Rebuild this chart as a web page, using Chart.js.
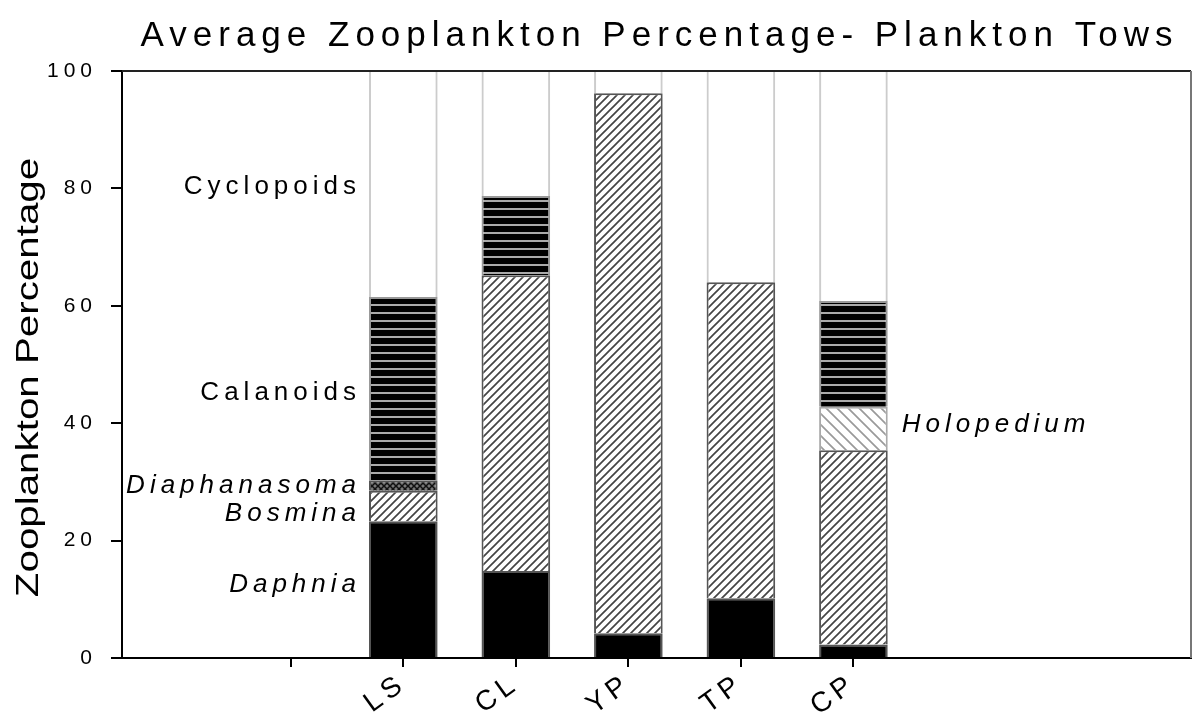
<!DOCTYPE html>
<html>
<head>
<meta charset="utf-8">
<script src="https://cdn.jsdelivr.net/npm/chart.js@4.4.0/dist/chart.umd.min.js"></script>
<style>
html, body { margin: 0; padding: 0; background: #fff; }
</style>
</head>
<body>
<canvas id="zooChart" width="1192" height="716"></canvas>
<script>
// lakes on the x axis (first slot is an empty category)
const lakes = ['', 'LS', 'CL', 'YP', 'TP', 'CP'];
const lakePos = [1, 2, 3, 4, 5];

// percentages per lake (LS, CL, YP, TP, CP)
const daphnia      = [23.3, 14.8,  4.2, 10.2,  2.3];
const bosmina      = [ 5.2, 50.4, 92.0, 53.8, 33.1];
const diaphanasoma = [ 1.8,  0,    0,    0,    0  ];
const holopedium   = [ 0,    0,    0,    0,    7.4];
const calanoids    = [31.2, 13.5,  0,    0,   18.0];
const cyclopoids   = [38.5, 21.3,  3.8, 36.0, 39.2];

const yTicks = [0, 20, 40, 60, 80, 100];

// text labels written inside the plot
const noteNames  = ['Daphnia', 'Bosmina', 'Diaphanasoma', 'Holopedium', 'Calanoids', 'Cyclopoids'];
const noteY      = [12.4, 24.5, 29.3, 39.7, 45.1, 80.2];
const noteBar    = [1, 1, 1, 5, 1, 1];
const noteItalic = [true, true, true, true, false, false];

const FONT = '"Liberation Sans", Arial, sans-serif';
Chart.defaults.font.family = FONT;

function tile(size, bg, draw) {
    const c = document.createElement('canvas');
    c.width = size; c.height = size;
    const g = c.getContext('2d');
    g.fillStyle = bg;
    g.fillRect(0, 0, size, size);
    draw(g, size);
    return g.createPattern(c, 'repeat');
}
function fwd(g, s) { // "/" lines
    g.beginPath();
    g.moveTo(-1, s + 1); g.lineTo(s + 1, -1);
    g.moveTo(-2, 2); g.lineTo(2, -2);
    g.moveTo(s - 2, s + 2); g.lineTo(s + 2, s - 2);
    g.stroke();
}
function back(g, s) { // "\" lines
    g.beginPath();
    g.moveTo(-1, -1); g.lineTo(s + 1, s + 1);
    g.moveTo(s - 2, -2); g.lineTo(s + 2, 2);
    g.moveTo(-2, s - 2); g.lineTo(2, s + 2);
    g.stroke();
}

const bosminaFill = tile(8, '#fff', (g, s) => { g.strokeStyle = '#444'; g.lineWidth = 1.7; fwd(g, s); });
const holoFill = tile(11, '#fff', (g, s) => { g.strokeStyle = '#9a9a9a'; g.lineWidth = 1.7; back(g, s); });
const diaphFill = tile(6, '#777', (g, s) => { g.strokeStyle = '#111'; g.lineWidth = 1.5; fwd(g, s); back(g, s); });
const calanFill = tile(8, '#000', (g, s) => { g.fillStyle = '#aaa'; g.fillRect(0, 0, s, 2); });

function pts(vals) {
    return vals.map((v, i) => ({ x: lakePos[i], y: v }));
}

const decor = {
    id: 'decor',
    beforeDraw(chart) {
        chart.ctx.letterSpacing = '5px';
    },
    afterDraw(chart) {
        const { ctx, chartArea: a, scales: { x, y } } = chart;
        ctx.save();
        // frame top and right
        ctx.lineWidth = 2;
        ctx.strokeStyle = '#222';
        ctx.beginPath(); ctx.moveTo(a.left, a.top); ctx.lineTo(a.right, a.top); ctx.stroke();
        ctx.strokeStyle = '#777';
        ctx.beginPath(); ctx.moveTo(a.right, a.top); ctx.lineTo(a.right, a.bottom); ctx.stroke();

        // title
        ctx.fillStyle = '#000';
        ctx.letterSpacing = '6px';
        ctx.font = '35px ' + FONT;
        ctx.textAlign = 'center';
        ctx.textBaseline = 'middle';
        ctx.fillText('Average Zooplankton Percentage- Plankton Tows', (a.left + a.right) / 2 + 3, 36);

        // y axis title (drawn a bit stretched along its length, as in the source)
        ctx.letterSpacing = '0px';
        ctx.save();
        ctx.translate(29, (a.top + a.bottom) / 2 + 13);
        ctx.rotate(-Math.PI / 2);
        ctx.scale(1.26, 1);
        ctx.font = '32px ' + FONT;
        ctx.fillText('Zooplankton Percentage', 0, 0);
        ctx.restore();

        // series names beside the bars
        const half = chart.getDatasetMeta(0).data[0].width / 2;
        ctx.letterSpacing = '5px';
        ctx.textBaseline = 'middle';
        noteNames.forEach((name, i) => {
            ctx.font = (noteItalic[i] ? 'italic ' : '') + '26px ' + FONT;
            const cx = x.getPixelForValue(noteBar[i]);
            const py = y.getPixelForValue(noteY[i]);
            if (noteBar[i] === lakePos[lakePos.length - 1]) {
                ctx.textAlign = 'left';
                ctx.fillText(name, cx + half + 14, py);
            } else {
                ctx.textAlign = 'right';
                ctx.fillText(name, cx - half - 8, py);
            }
        });
        ctx.restore();
    }
};

new Chart(document.getElementById('zooChart'), {
    type: 'bar',
    data: {
        datasets: [
            { label: 'Daphnia', data: pts(daphnia), backgroundColor: '#000', borderColor: '#555', borderWidth: 2 },
            { label: 'Bosmina', data: pts(bosmina), backgroundColor: bosminaFill, borderColor: '#555', borderWidth: 2 },
            { label: 'Diaphanasoma', data: pts(diaphanasoma), backgroundColor: diaphFill, borderColor: '#555', borderWidth: 2 },
            { label: 'Holopedium', data: pts(holopedium), backgroundColor: holoFill, borderColor: '#aaa', borderWidth: 2 },
            { label: 'Calanoids', data: pts(calanoids), backgroundColor: calanFill, borderColor: '#999', borderWidth: 2 },
            { label: 'Cyclopoids', data: pts(cyclopoids), backgroundColor: 'rgba(255,255,255,0)', borderColor: '#ccc',
              borderWidth: { left: 2, right: 2, top: 0, bottom: 0 } }
        ]
    },
    options: {
        responsive: false,
        animation: false,
        barPercentage: 0.61,
        categoryPercentage: 1,
        layout: { padding: { top: 71, right: 1, left: 0, bottom: 0 } },
        plugins: { legend: { display: false }, tooltip: { enabled: false } },
        scales: {
            x: {
                type: 'linear',
                stacked: true,
                offset: false,
                min: -1.5,
                max: 8,
                afterBuildTicks: s => { s.ticks = lakes.map((_, i) => ({ value: i })); },
                afterFit: s => { s.height = 58; },
                grid: { offset: false, drawOnChartArea: false, tickLength: 9, color: '#000', lineWidth: 2 },
                border: { color: '#000', width: 2 },
                ticks: {
                    autoSkip: false,
                    minRotation: 36,
                    maxRotation: 36,
                    padding: 0,
                    color: '#000',
                    font: { size: 28 },
                    callback: v => lakes[v] ?? ''
                }
            },
            y: {
                stacked: true,
                min: 0,
                max: 100,
                afterBuildTicks: s => { s.ticks = yTicks.map(v => ({ value: v })); },
                afterFit: s => { s.width = 122; },
                grid: { drawOnChartArea: false, tickLength: 11, color: '#000', lineWidth: 2 },
                border: { color: '#000', width: 2 },
                ticks: { padding: 14, color: '#000', font: { size: 21 } }
            }
        }
    },
    plugins: [decor]
});
</script>
</body>
</html>
